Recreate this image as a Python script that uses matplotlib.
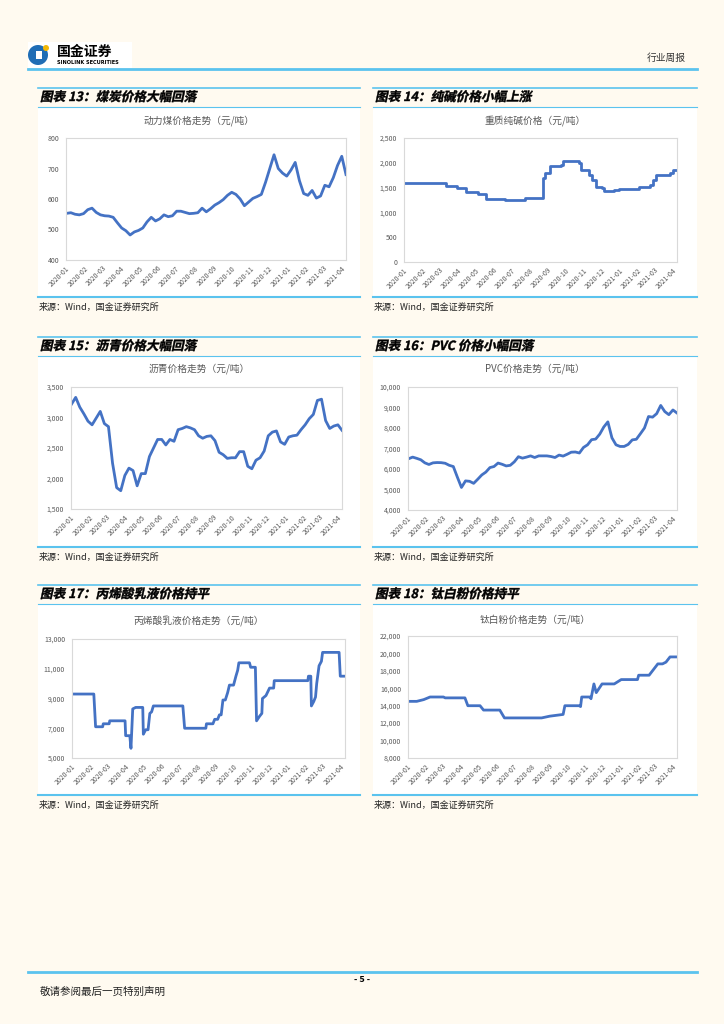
import numpy as np
import pandas as pd
import matplotlib
matplotlib.use('Agg')
import matplotlib.pyplot as plt
import matplotlib.dates as mdates
import matplotlib.ticker as mticker
from matplotlib.patches import Rectangle, Circle, Wedge, PathPatch
from matplotlib.textpath import TextPath
from matplotlib.font_manager import FontProperties
from matplotlib.transforms import Affine2D

plt.rcParams['font.family'] = ['Noto Sans CJK SC', 'DejaVu Sans']

# ---- data ----
weeks = pd.date_range('2020-01-02', periods=67, freq='7D')

coal = [553, 555, 550, 548, 552, 565, 570, 556, 548, 545,
        544, 540, 522, 505, 496, 482, 492, 497, 505, 525,
        540, 528, 535, 548, 542, 545, 560, 560, 556, 552,
        553, 555, 570, 558, 568, 580, 588, 598, 612, 622,
        615, 600, 578, 590, 602, 608, 615, 655, 700, 745,
        700, 685, 675, 695, 720, 660, 618, 612, 628, 603,
        610, 645, 640, 670, 710, 740, 680]

pitch = [3220, 3330, 3170, 3060, 2940, 2880, 2990, 3100, 2900, 2850,
         2250, 1850, 1800, 2050, 2170, 2130, 1880, 2080, 2080, 2360,
         2500, 2640, 2640, 2550, 2640, 2610, 2800, 2820, 2850, 2830,
         2800, 2700, 2660, 2690, 2700, 2620, 2430, 2390, 2330, 2340,
         2340, 2440, 2440, 2200, 2160, 2300, 2340, 2450, 2700, 2760,
         2780, 2600, 2560, 2680, 2700, 2710, 2800, 2880, 2980, 3050,
         3280, 3300, 2950, 2820, 2860, 2880, 2790]

pvc = [6500, 6580, 6520, 6450, 6300, 6220, 6300, 6315, 6310, 6280,
       6180, 6120, 5600, 5100, 5420, 5400, 5300, 5500, 5710, 5850,
       6070, 6120, 6290, 6230, 6150, 6180, 6350, 6600, 6530, 6580,
       6640, 6560, 6640, 6640, 6640, 6610, 6560, 6680, 6630, 6720,
       6820, 6830, 6780, 7050, 7180, 7430, 7460, 7700, 8050, 8300,
       7520, 7180, 7100, 7100, 7200, 7420, 7450, 7720, 8000, 8560,
       8530, 8700, 9100, 8800, 8650, 8880, 8730]

soda_dates = ['2020-01-01', '2020-02-16', '2020-03-12', '2020-03-31', '2020-04-15',
              '2020-05-06', '2020-05-19', '2020-06-21', '2020-07-25', '2020-08-24',
              '2020-08-27', '2020-09-05', '2020-09-23', '2020-09-26', '2020-10-16',
              '2020-10-24', '2020-10-28', '2020-11-10', '2020-11-15', '2020-11-22',
              '2020-12-02', '2020-12-05', '2020-12-22', '2020-12-30', '2021-02-02',
              '2021-02-22', '2021-02-26', '2021-03-04', '2021-03-27', '2021-04-02',
              '2021-04-08']
soda = [1600, 1590, 1540, 1500, 1420, 1370, 1280, 1260, 1300, 1700,
        1800, 1930, 1960, 2040, 2030, 2000, 1850, 1750, 1650, 1520,
        1500, 1430, 1450, 1470, 1510, 1550, 1650, 1760, 1800, 1850,
        1850]

acryl_dates = ['2020-01-01', '2020-02-07', '2020-02-10', '2020-02-22', '2020-02-23',
               '2020-03-04', '2020-03-05', '2020-03-31', '2020-04-01', '2020-04-08',
               '2020-04-10', '2020-04-13', '2020-04-18', '2020-04-30', '2020-05-01',
               '2020-05-05', '2020-05-09', '2020-05-12', '2020-05-15', '2020-05-18',
               '2020-07-07', '2020-07-10', '2020-08-15', '2020-08-16', '2020-08-27',
               '2020-08-30', '2020-09-04', '2020-09-07', '2020-09-10', '2020-09-13',
               '2020-09-17', '2020-09-21', '2020-09-24', '2020-10-01', '2020-10-05',
               '2020-10-08', '2020-10-10', '2020-10-28', '2020-10-30', '2020-11-07',
               '2020-11-09', '2020-11-14', '2020-11-18', '2020-11-19', '2020-11-25',
               '2020-12-01', '2020-12-08', '2020-12-09', '2021-02-04', '2021-02-05',
               '2021-02-09', '2021-02-10', '2021-02-14', '2021-02-17', '2021-02-19',
               '2021-02-23', '2021-02-27', '2021-03-01', '2021-03-29', '2021-03-31',
               '2021-04-08']
acryl = [9300, 9300, 7100, 7100, 7300, 7300, 7500, 7500, 6500, 6500,
         5650, 8300, 8400, 8400, 6600, 6900, 6900, 8000, 8100, 8500,
         8500, 7000, 7000, 7300, 7300, 7600, 7600, 7900, 7900, 8900,
         8900, 9400, 9900, 9900, 10500, 10900, 11400, 11400, 11100, 11100,
         7500, 7800, 8000, 9000, 9200, 9700, 9700, 10200, 10200, 10500,
         10500, 8500, 8800, 9100, 10000, 11200, 11500, 12100, 12100, 10500,
         10500]

tio2_dates = ['2020-01-01', '2020-01-16', '2020-01-28', '2020-02-08', '2020-03-02',
              '2020-03-05', '2020-04-08', '2020-04-13', '2020-05-04', '2020-05-10',
              '2020-06-07', '2020-06-15', '2020-08-18', '2020-09-01', '2020-09-24',
              '2020-09-27', '2020-10-22', '2020-10-24', '2020-10-26', '2020-11-09',
              '2020-11-11', '2020-11-16', '2020-11-20', '2020-11-26', '2020-11-30',
              '2020-12-21', '2021-01-02', '2021-01-30', '2021-02-01', '2021-02-19',
              '2021-03-06', '2021-03-14', '2021-03-20', '2021-03-27', '2021-04-07']
tio2 = [14500, 14500, 14700, 15000, 15000, 14900, 14900, 14000, 14000, 13500,
        13500, 12600, 12600, 12800, 13000, 14000, 14000, 13900, 15000, 15000,
        14800, 16500, 15500, 16100, 16500, 16500, 17000, 17000, 17500, 17500,
        18800, 18800, 19000, 19600, 19600]

# ---- page ----
W, H = 724, 1024
BLUE_LINE = '#5BC3EE'
LINE = '#4472C4'
GREY = '#595959'

fig = plt.figure(figsize=(7.24, 10.24), dpi=100, facecolor='#FFFAF0')
page = fig.add_axes([0, 0, 1, 1], zorder=-1)
page.set_xlim(0, W)
page.set_ylim(H, 0)
page.axis('off')


def box(x0, y0, x1, y1):
    return [x0 / W, 1 - y1 / H, (x1 - x0) / W, (y1 - y0) / H]


def slanted(x, y, s, size=12.6):
    fp = FontProperties(family='Noto Sans CJK SC', weight='bold')
    tp = TextPath((0, 0), s, size=size, prop=fp)
    tr = Affine2D().skew_deg(12, 0).scale(1, -1).translate(x, y) + page.transData
    page.add_patch(PathPatch(tp, transform=tr, fc='black', ec='black', lw=0.3))


# header
page.add_patch(Rectangle((28, 42), 104, 26, fc='white', ec='none'))
page.add_patch(Circle((38, 55), 10, fc='#1F6DB5', ec='none'))
page.add_patch(Rectangle((36, 51), 6, 8, fc='white', ec='none'))
page.add_patch(Circle((46, 48), 3, fc='#F2B705', ec='none'))
page.text(57, 51.5, '国金证券', fontsize=10, fontweight='bold', va='center', ha='left')
page.text(57, 62, 'SINOLINK SECURITIES', fontsize=3.6, fontweight='bold', va='center',
          ha='left', family=['DejaVu Sans'])
page.text(686, 58, '行业周报', fontsize=7, color='#333333', ha='right', va='center')
page.plot([28, 697], [69, 69], color=BLUE_LINE, lw=2)

# footer
page.plot([28, 697], [972, 972], color=BLUE_LINE, lw=2)
page.text(362, 980, '- 5 -', fontsize=6.5, fontweight='bold', ha='center', va='center')
page.text(40, 992, '敬请参阅最后一页特别声明', fontsize=7.6, color='#222222', ha='left', va='center')

cols = [(38, 360), (373, 697)]
rows = [(88, 297), (337, 547), (585, 795)]


def panel(col, row, heading, subtitle, sub_y, ax_rect, x, y, ylim, yticks, step=False):
    x0, x1 = cols[col]
    y0, y1 = rows[row]
    page.plot([x0, x1], [y0, y0], color=BLUE_LINE, lw=1.2)
    slanted(x0 + 2, y0 + 13, heading)
    page.plot([x0, x1], [y0 + 19, y0 + 19], color=BLUE_LINE, lw=0.8)
    page.add_patch(Rectangle((x0, y0 + 20), x1 - x0, y1 - y0 - 21, fc='white', ec='none'))
    page.plot([x0, x1], [y1, y1], color=BLUE_LINE, lw=1.5)
    page.text((x0 + x1) / 2, sub_y, subtitle, fontsize=7, color=GREY, ha='center', va='center')
    page.text(x0 + 1, y1 + 10, '来源：Wind，国金证券研究所', fontsize=6.5, color='#222222',
              ha='left', va='center')

    ax = fig.add_axes(box(*ax_rect))
    ax.plot(x, y, color=LINE, lw=2.0, drawstyle='steps-post' if step else 'default')
    ax.set_xlim(pd.Timestamp('2020-01-01'), pd.Timestamp('2021-04-08'))
    ax.set_ylim(*ylim)
    ax.set_yticks(yticks)
    ax.yaxis.set_major_formatter(mticker.StrMethodFormatter('{x:,.0f}'))
    ax.xaxis.set_major_locator(mdates.MonthLocator())
    ax.xaxis.set_major_formatter(mdates.DateFormatter('%Y-%m'))
    ax.tick_params(length=0, labelsize=5, labelcolor=GREY)
    ax.tick_params(axis='y', pad=5)
    ax.tick_params(axis='x', pad=3)
    for lab in ax.get_xticklabels():
        lab.set_rotation(45)
        lab.set_ha('right')
        lab.set_rotation_mode('anchor')
    for sp in ax.spines.values():
        sp.set_color('#D9D9D9')
        sp.set_linewidth(0.8)
    return ax


panel(0, 0, '图表 13：煤炭价格大幅回落', '动力煤价格走势（元/吨）', 121,
      (66, 138, 346, 260), weeks, coal, (400, 800), [400, 500, 600, 700, 800])
panel(1, 0, '图表 14：纯碱价格小幅上涨', '重质纯碱价格（元/吨）', 121,
      (404, 138, 677, 262), pd.to_datetime(soda_dates), soda, (0, 2500),
      [0, 500, 1000, 1500, 2000, 2500], step=True)
panel(0, 1, '图表 15：沥青价格大幅回落', '沥青价格走势（元/吨）', 369,
      (71, 387, 342, 509), weeks, pitch, (1500, 3500), [1500, 2000, 2500, 3000, 3500])
panel(1, 1, '图表 16：PVC 价格小幅回落', 'PVC价格走势（元/吨）', 369,
      (408, 387, 677, 510), weeks, pvc, (4000, 10000),
      [4000, 5000, 6000, 7000, 8000, 9000, 10000])
panel(0, 2, '图表 17：丙烯酸乳液价格持平', '丙烯酸乳液价格走势（元/吨）', 621,
      (72, 639, 345, 758), pd.to_datetime(acryl_dates), acryl, (5000, 13000),
      [5000, 7000, 9000, 11000, 13000])
panel(1, 2, '图表 18：钛白粉价格持平', '钛白粉价格走势（元/吨）', 620,
      (408, 636, 677, 758), pd.to_datetime(tio2_dates), tio2, (8000, 22000),
      [8000, 10000, 12000, 14000, 16000, 18000, 20000, 22000])

fig.savefig('out.png', dpi=100, facecolor=fig.get_facecolor())
